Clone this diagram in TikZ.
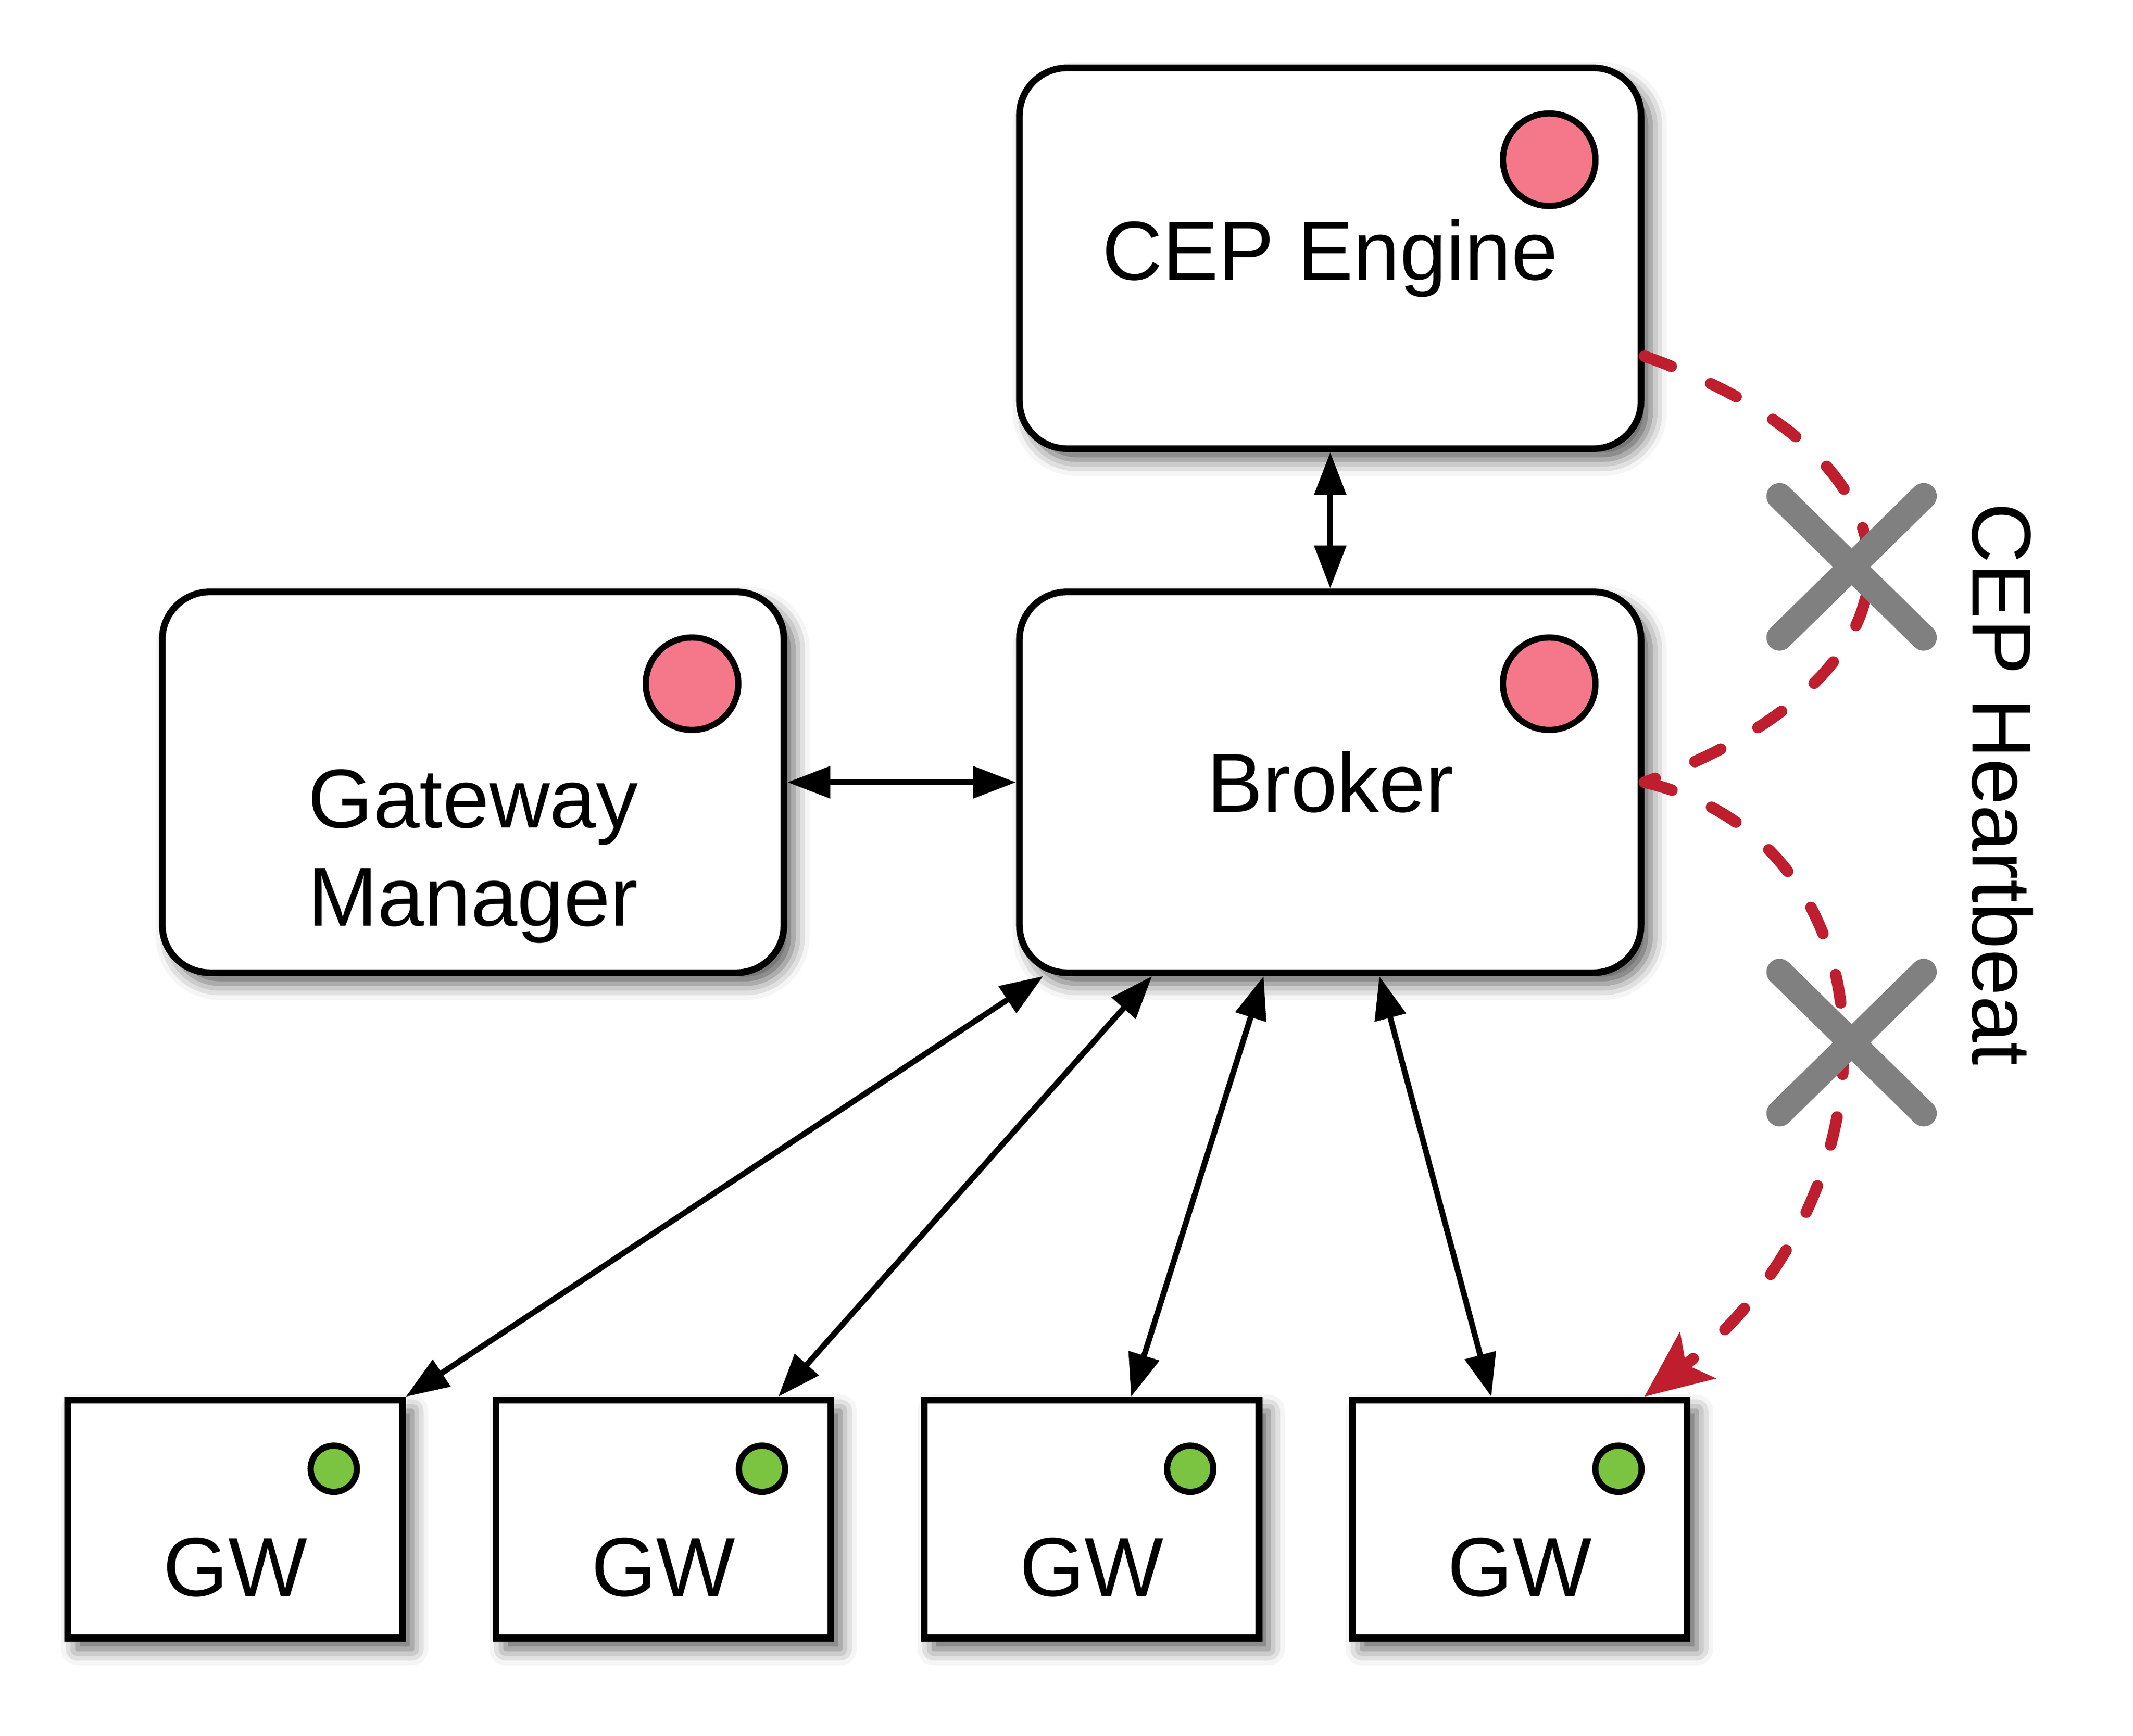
\documentclass[tikz,border=0pt]{standalone}
\usepackage{fontspec}
\setmainfont{Liberation Sans}
\usetikzlibrary{arrows.meta,shadows.blur}
\definecolor{node_pink}{RGB}{245,120,138}
\definecolor{node_green}{RGB}{122,196,66}
\definecolor{edge_red}{RGB}{190,30,45}
\definecolor{cross_gray}{RGB}{128,128,128}

\begin{document}
\begin{tikzpicture}[x=0.01cm,y=-0.01cm,>={Triangle[length=9pt,width=6.5pt]},font=\fontsize{17.5}{20.5}\selectfont]
    \tikzstyle{box}=[draw=black, line width=1.4pt, rounded corners=0.35cm, fill=white, minimum width=4.57cm, minimum height=2.8cm, inner sep=0pt, blur shadow={shadow xshift=0.07cm, shadow yshift=-0.08cm, shadow blur radius=0.12cm, shadow opacity=65}]
    \tikzstyle{gw}=[style=box, sharp corners, minimum width=2.46cm, minimum height=1.75cm]
    \tikzstyle{led}=[draw=black, line width=1.3pt, circle, inner sep=0pt, minimum size=0.68cm, fill=node_pink]
    \tikzstyle{gwled}=[style=led, minimum size=0.34cm, fill=node_green]
    \tikzstyle{link}=[<->, line width=1.2pt]
    \tikzstyle{beat}=[edge_red, line width=2.4pt, line cap=round, dash pattern=on 6pt off 9pt]
    \tikzstyle{cross}=[cross_gray, line width=5.5pt, line cap=round]

    \useasboundingbox (0,0) rectangle (1569,1277);

    \node[box]  (cep)    at (978.5,190)   {CEP Engine};
    \node[box]  (broker) at (978.5,575.5) {Broker};
    \node[box]  (gm)     at (348,575.5)   {};
    \node[gw]   (gw1)    at (173,1117.5)  {};
    \node[gw]   (gw2)    at (488,1117.5)  {};
    \node[gw]   (gw3)    at (803,1117.5)  {};
    \node[gw]   (gw4)    at (1118,1117.5) {};

    \node[led]   (cepled)    at ([xshift=-0.7cm,yshift=-0.7cm]cep.north east)    {};
    \node[led]   (brokerled) at ([xshift=-0.7cm,yshift=-0.7cm]broker.north east) {};
    \node[led]   (gmled)     at ([xshift=-0.7cm,yshift=-0.7cm]gm.north east)     {};
    \node[gwled] (gwled1)    at ([xshift=-0.53cm,yshift=-0.53cm]gw1.north east)  {};
    \node[gwled] (gwled2)    at ([xshift=-0.53cm,yshift=-0.53cm]gw2.north east)  {};
    \node[gwled] (gwled3)    at ([xshift=-0.53cm,yshift=-0.53cm]gw3.north east)  {};
    \node[gwled] (gwled4)    at ([xshift=-0.53cm,yshift=-0.53cm]gw4.north east)  {};

    \node[align=center] (gmtext) at (348,630)   {Gateway\\Manager};
    \node               (gwtext1) at (173,1153)  {GW};
    \node               (gwtext2) at (488,1153)  {GW};
    \node               (gwtext3) at (803,1153)  {GW};
    \node               (gwtext4) at (1118,1153) {GW};
    \node[rotate=-90]   (hb)     at (1473,577)  {CEP Heartbeat};

    \path
     (cep.south) edge[link] (broker.north)
     (gm.east) edge[link] (broker.west)
     ([xshift=0.2cm]broker.south west) edge[link] (gw1.north east)
     ([xshift=1.0cm]broker.south west) edge[link] ([xshift=-0.41cm]gw2.north east)
     ([xshift=1.82cm]broker.south west) edge[link] ([xshift=0.29cm]gw3.north)
     ([xshift=2.67cm]broker.south west) edge[link] ([xshift=-0.21cm]gw4.north)
     ;

    \draw[beat] ([yshift=-0.72cm]cep.east) .. controls (1430,340) and (1430,495) .. (broker.east);
    \draw[beat, -{Stealth[length=14pt,width=12pt,inset=3pt]}] (broker.east) .. controls (1400,620) and (1400,880) .. ([xshift=-0.34cm]gw4.north east);

    \coordinate (x1) at (1362,417);
    \coordinate (x2) at (1362,767);
    \draw[cross] (x1) +(-53,-52) -- +(53,52) (x1) +(-53,52) -- +(53,-52);
    \draw[cross] (x2) +(-53,-52) -- +(53,52) (x2) +(-53,52) -- +(53,-52);
  \end{tikzpicture}
\end{document}
